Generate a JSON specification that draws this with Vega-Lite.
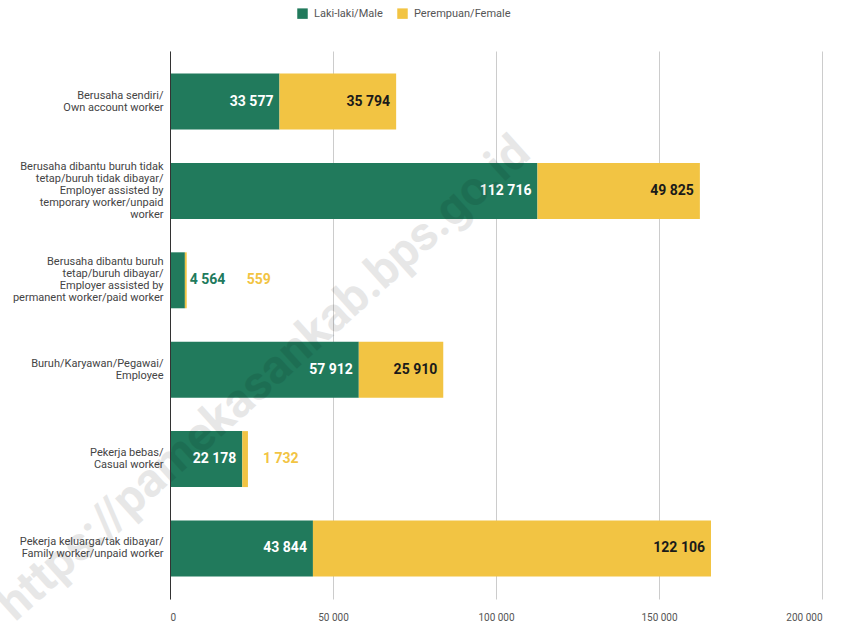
{
  "$schema": "https://vega.github.io/schema/vega-lite/v6.json",
  "autosize": {"type": "none"},
  "width": 652,
  "height": 548,
  "padding": {"left": 170, "top": 51, "right": 29, "bottom": 29},
  "background": "white",
  "config": {
    "locale": {"number": {"decimal": ",", "thousands": " ", "grouping": [3], "currency": ["", ""]}},
    "font": "Roboto",
    "view": {"stroke": null}
  },
  "data": {
    "values": [
      {"cat": "Berusaha sendiri/|Own account worker", "sex": "Laki-laki/Male", "value": 33577},
      {"cat": "Berusaha sendiri/|Own account worker", "sex": "Perempuan/Female", "value": 35794},
      {"cat": "Berusaha dibantu buruh tidak|tetap/buruh tidak dibayar/|Employer assisted by|temporary worker/unpaid|worker", "sex": "Laki-laki/Male", "value": 112716},
      {"cat": "Berusaha dibantu buruh tidak|tetap/buruh tidak dibayar/|Employer assisted by|temporary worker/unpaid|worker", "sex": "Perempuan/Female", "value": 49825},
      {"cat": "Berusaha dibantu buruh|tetap/buruh dibayar/|Employer assisted by|permanent worker/paid worker", "sex": "Laki-laki/Male", "value": 4564},
      {"cat": "Berusaha dibantu buruh|tetap/buruh dibayar/|Employer assisted by|permanent worker/paid worker", "sex": "Perempuan/Female", "value": 559},
      {"cat": "Buruh/Karyawan/Pegawai/|Employee", "sex": "Laki-laki/Male", "value": 57912},
      {"cat": "Buruh/Karyawan/Pegawai/|Employee", "sex": "Perempuan/Female", "value": 25910},
      {"cat": "Pekerja bebas/|Casual worker", "sex": "Laki-laki/Male", "value": 22178},
      {"cat": "Pekerja bebas/|Casual worker", "sex": "Perempuan/Female", "value": 1732},
      {"cat": "Pekerja keluarga/tak dibayar/|Family worker/unpaid worker", "sex": "Laki-laki/Male", "value": 43844},
      {"cat": "Pekerja keluarga/tak dibayar/|Family worker/unpaid worker", "sex": "Perempuan/Female", "value": 122106}
    ]
  },
  "encoding": {
    "y": {
      "field": "cat",
      "type": "nominal",
      "sort": null,
      "scale": {"paddingInner": 0.374, "paddingOuter": 0.252},
      "axis": {
        "title": null,
        "labelExpr": "split(datum.value, '|')",
        "labelAlign": "right",
        "labelBaseline": "middle",
        "labelFontSize": 11,
        "labelColor": "#444444",
        "labelLineHeight": 12,
        "labelOffset": {"expr": "-(length(split(datum.value, '|')) - 1) * 6"},
        "labelPadding": 7,
        "ticks": false,
        "domain": true,
        "domainColor": "#333333",
        "domainWidth": 1,
        "zindex": 1
      }
    }
  },
  "layer": [
    {
      "mark": {"type": "bar"},
      "encoding": {
        "x": {
          "field": "value",
          "type": "quantitative",
          "aggregate": "sum",
          "stack": "zero",
          "scale": {"domain": [0, 200000], "nice": false},
          "axis": {
            "title": null,
            "values": [0, 50000, 100000, 150000, 200000],
            "format": ",d",
            "grid": true,
            "gridColor": "#cccccc",
            "domain": false,
            "ticks": false,
            "labelFontSize": 10,
            "labelColor": "#555555",
            "labelPadding": 13
          }
        },
        "color": {
          "field": "sex",
          "type": "nominal",
          "scale": {"domain": ["Laki-laki/Male", "Perempuan/Female"], "range": ["#217a5c", "#f2c443"]},
          "legend": {
            "title": null,
            "orient": "none",
            "direction": "horizontal",
            "legendX": 127,
            "legendY": -43,
            "symbolType": "square",
            "symbolSize": 110,
            "symbolStrokeWidth": 0,
            "labelFontSize": 11,
            "labelColor": "#555555",
            "columnPadding": 14,
            "labelOffset": 6
          }
        },
        "order": {"field": "sex", "sort": "ascending"}
      }
    },
    {
      "transform": [
        {"stack": "value", "groupby": ["cat"], "sort": [{"field": "sex", "order": "ascending"}], "as": ["x0", "x1"]},
        {"filter": "datum.value >= 10000"}
      ],
      "mark": {"type": "text", "align": "right", "baseline": "middle", "dx": -6, "fontSize": 14, "fontWeight": "bold"},
      "encoding": {
        "x": {"field": "x1", "type": "quantitative"},
        "text": {"field": "value", "type": "quantitative", "format": ",d"},
        "color": {"condition": {"test": "datum.sex == 'Laki-laki/Male'", "value": "#ffffff"}, "value": "#1a1a1a"}
      }
    },
    {
      "transform": [
        {"joinaggregate": [{"op": "sum", "field": "value", "as": "total"}], "groupby": ["cat"]},
        {"filter": "datum.value < 10000 && datum.sex == 'Laki-laki/Male'"}
      ],
      "mark": {"type": "text", "align": "left", "baseline": "middle", "dx": 3, "fontSize": 14, "fontWeight": "bold", "color": "#217a5c"},
      "encoding": {
        "x": {"field": "total", "type": "quantitative"},
        "text": {"field": "value", "type": "quantitative", "format": ",d"}
      }
    },
    {
      "transform": [
        {"joinaggregate": [{"op": "sum", "field": "value", "as": "total"}, {"op": "max", "field": "value", "as": "rowmax"}], "groupby": ["cat"]},
        {"filter": "datum.value < 10000 && datum.sex == 'Perempuan/Female' && datum.rowmax < 10000"}
      ],
      "mark": {"type": "text", "align": "left", "baseline": "middle", "dx": 60, "fontSize": 14, "fontWeight": "bold", "color": "#f2c443"},
      "encoding": {
        "x": {"field": "total", "type": "quantitative"},
        "text": {"field": "value", "type": "quantitative", "format": ",d"}
      }
    },
    {
      "transform": [
        {"joinaggregate": [{"op": "sum", "field": "value", "as": "total"}, {"op": "max", "field": "value", "as": "rowmax"}], "groupby": ["cat"]},
        {"filter": "datum.value < 10000 && datum.sex == 'Perempuan/Female' && datum.rowmax >= 10000"}
      ],
      "mark": {"type": "text", "align": "left", "baseline": "middle", "dx": 15, "fontSize": 14, "fontWeight": "bold", "color": "#f2c443"},
      "encoding": {
        "x": {"field": "total", "type": "quantitative"},
        "text": {"field": "value", "type": "quantitative", "format": ",d"}
      }
    },
    {
      "data": {"values": [{"wm": "https://pamekasankab.bps.go.id"}]},
      "mark": {"type": "text", "align": "center", "baseline": "middle", "angle": -42, "dx": -14, "fontSize": 48, "fontWeight": "bold", "color": "#000000", "opacity": 0.09},
      "encoding": {
        "x": {"datum": 32200, "type": "quantitative"},
        "y": {"datum": "Buruh/Karyawan/Pegawai/|Employee", "type": "nominal"},
        "text": {"field": "wm", "type": "nominal"}
      }
    }
  ]
}
